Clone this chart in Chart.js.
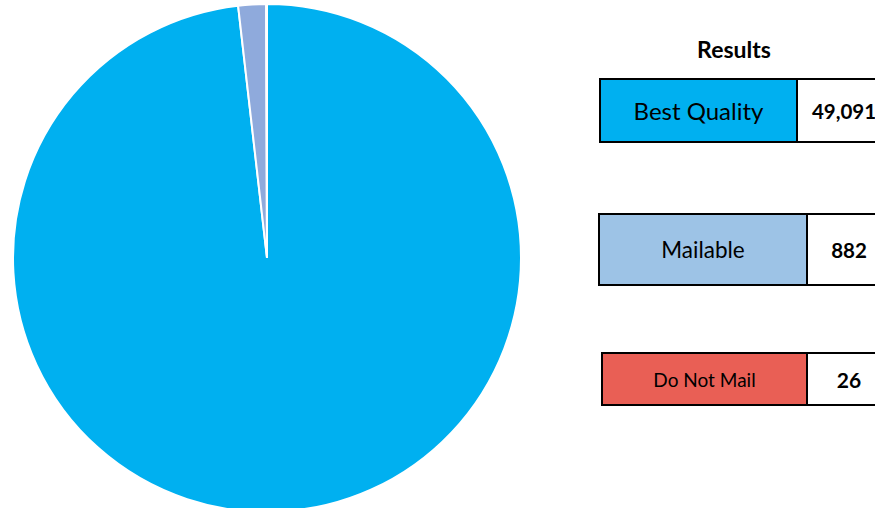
<!DOCTYPE html>
<html>
<head>
<meta charset="utf-8">
<script src="https://cdn.jsdelivr.net/npm/chart.js@4.4.1/dist/chart.umd.min.js"></script>
<style>
  html, body { margin: 0; padding: 0; background: #fff; }
  body { width: 875px; height: 508px; overflow: hidden; position: relative; font-family: Lato, "Open Sans", sans-serif; }
  #pieWrap { position: absolute; left: 12px; top: 3px; width: 510px; height: 510px; }
  .title { position: absolute; left: 674px; top: 35px; width: 120px; text-align: center; font-weight: bold; font-size: 23px; color: #000; }
  .item { position: absolute; display: flex; }
  .lbl, .val { box-sizing: border-box; border: 2px solid #000; display: flex; align-items: center; justify-content: center; color: #000; }
  .val { border-left: none; background: #fff; font-weight: bold; white-space: nowrap; }
</style>
</head>
<body>
<div id="pieWrap"><canvas id="c"></canvas></div>
<div class="title" id="title"></div>
<div id="legend"></div>
<script>
const categories = ["Best Quality", "Mailable", "Do Not Mail"];
const counts = [49091, 882, 26];
const countLabels = ["49,091", "882", "26"];
const legendTitle = "Results";

const pieColors = ["#00B0F0", "#8FAADC", "#E95F55"];
const boxColors = ["#00B0F0", "#9DC3E6", "#E95F55"];
const boxLayout = [
  { left: 599, top: 78, w: 199, h: 65, vw: 94, fs: 24, vfs: 20.5 },
  { left: 598, top: 213, w: 210, h: 73, vw: 84, fs: 22.5, vfs: 20.5 },
  { left: 601, top: 352, w: 207, h: 54, vw: 84, fs: 19, vfs: 21 }
];

document.getElementById('title').textContent = legendTitle;
const legend = document.getElementById('legend');
categories.forEach((cat, i) => {
  const L = boxLayout[i];
  const item = document.createElement('div');
  item.className = 'item';
  item.style.left = L.left + 'px';
  item.style.top = L.top + 'px';
  item.style.height = L.h + 'px';
  const lbl = document.createElement('div');
  lbl.className = 'lbl';
  lbl.style.width = L.w + 'px';
  lbl.style.background = boxColors[i];
  lbl.style.fontSize = L.fs + 'px';
  lbl.textContent = cat;
  const val = document.createElement('div');
  val.className = 'val';
  val.style.width = L.vw + 'px';
  val.style.fontSize = L.vfs + 'px';
  val.textContent = countLabels[i];
  item.appendChild(lbl);
  item.appendChild(val);
  legend.appendChild(item);
});

new Chart(document.getElementById('c'), {
  type: 'pie',
  data: {
    labels: categories,
    datasets: [{
      data: counts,
      backgroundColor: pieColors,
      borderColor: '#ffffff',
      borderWidth: 2
    }]
  },
  options: {
    responsive: true,
    maintainAspectRatio: false,
    animation: false,
    layout: { padding: 0 },
    plugins: { legend: { display: false }, tooltip: { enabled: false } }
  }
});
</script>
</body>
</html>
